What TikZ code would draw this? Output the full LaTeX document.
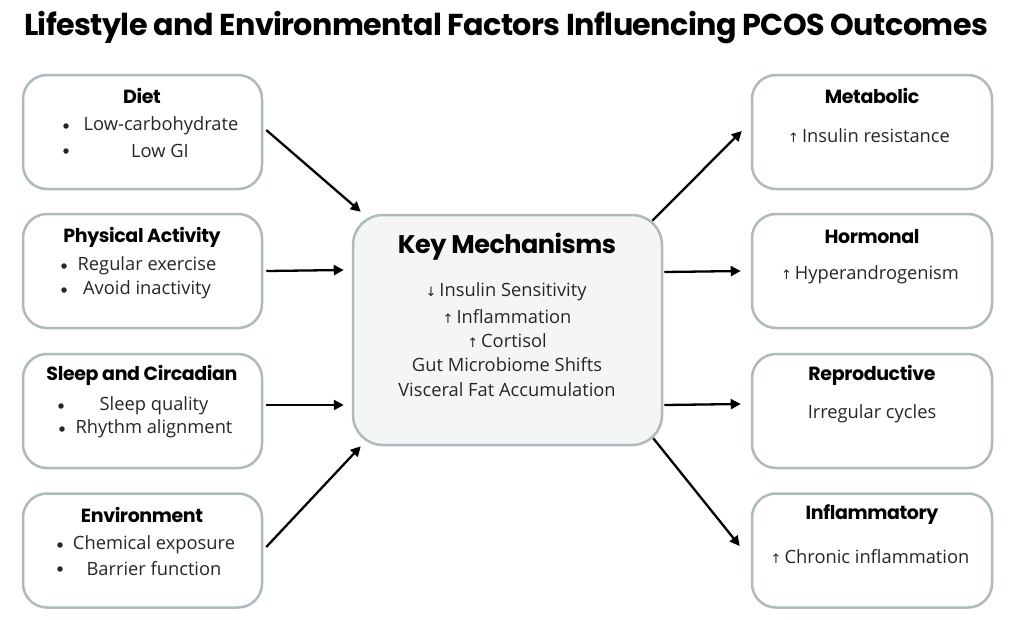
\documentclass[tikz,border=0pt]{standalone}
\usepackage{fontspec}
\setmainfont{Open Sans}
\newfontfamily\headfont{Poppins}[LetterSpace=-2]
\newfontfamily\symfont{DejaVu Sans}
\usetikzlibrary{calc,arrows.meta}
\definecolor{boxline}{HTML}{AEBABC}
\definecolor{keyfill}{HTML}{F4F6F6}
\newcommand{\up}{{\symfont\fontsize{13}{15}\selectfont ↑}\,}
\newcommand{\down}{{\symfont\fontsize{13}{15}\selectfont ↓}\,}
\tikzset{
  sbox/.style={draw=boxline, line width=2.5pt, rounded corners=24pt, fill=white},
  lbox/.style={sbox, minimum width=239pt, minimum height=114pt},
  rbox/.style={sbox, minimum width=240pt, minimum height=114pt},
  keybox/.style={draw=boxline, line width=2.5pt, rounded corners=30pt, fill=keyfill, minimum width=309pt, minimum height=230pt},
  head/.style={font=\headfont\bfseries\fontsize{19}{22}\selectfont, inner sep=0pt},
  txt/.style={font=\fontsize{18.3}{22}\selectfont, inner sep=0pt, text=black!85},
  bul/.style={circle, fill=black!85, inner sep=0pt, minimum size=5.5pt},
  arr/.style={-{Triangle[length=10pt,width=10pt]}, line width=2.3pt, black}
}
\begin{document}
\begin{tikzpicture}[x=1pt,y=-1pt]
\useasboundingbox (0,0) rectangle (1024,619);
\fill[white] (0,0) rectangle (1024,619);
% title
\node[font=\headfont\bfseries\fontsize{30.2}{34}\selectfont, inner sep=0pt] (title) at (506,28) {Lifestyle and Environmental Factors Influencing PCOS Outcomes};
% left boxes
\node[lbox] (diet) at (142.5,132) {};
\node[lbox] (phys) at (142.5,271) {};
\node[lbox] (sleep) at (142.5,411) {};
\node[lbox] (env) at (142.5,550.5) {};
% right boxes
\node[rbox] (met) at (872,132) {};
\node[rbox] (horm) at (872,271) {};
\node[rbox] (repro) at (872,411) {};
\node[rbox] (infl) at (872,550.5) {};
% key box
\node[keybox] (key) at (507.5,330) {};
% left texts
\node[head] (dieth) at (142,96) {Diet};
\node[bul] (db1) at (66,126) {};
\node[bul] (db2) at (66,151) {};
\node[txt] (dt1) at (161,126) {Low-carbohydrate};
\node[txt] (dt2) at (160,151) {Low GI};
\node[head] (physh) at (142,237) {Physical Activity};
\node[bul] (pb1) at (64,266) {};
\node[bul] (pb2) at (64,290) {};
\node[txt] (pt1) at (147,266) {Regular exercise};
\node[txt] (pt2) at (147,290) {Avoid inactivity};
\node[head] (sleeph) at (142,375) {Sleep and Circadian};
\node[bul] (sb1) at (61,406) {};
\node[bul] (sb2) at (62,429) {};
\node[txt] (st1) at (154,406) {Sleep quality};
\node[txt] (st2) at (154,429) {Rhythm alignment};
\node[head] (envh) at (142,515) {Environment};
\node[bul] (eb1) at (60,545) {};
\node[bul] (eb2) at (60,569) {};
\node[txt] (et1) at (154,545) {Chemical exposure};
\node[txt] (et2) at (154,569) {Barrier function};
% right texts
\node[head] (meth) at (872,96) {Metabolic};
\node[txt] (mt) at (869,136) {\up Insulin resistance};
\node[head] (hormh) at (872,237) {Hormonal};
\node[txt] (ht) at (870,275) {\up Hyperandrogenism};
\node[head] (reproh) at (872,375) {Reproductive};
\node[txt] (rt) at (872,414) {Irregular cycles};
\node[head] (inflh) at (872,515) {Inflammatory};
\node[txt] (it) at (870,557) {\up Chronic inflammation};
% key texts
\node[font=\headfont\bfseries\fontsize{25.5}{30}\selectfont, inner sep=0pt] (keyh) at (507,247) {Key Mechanisms};
\node[txt] (k1) at (506,292) {\down Insulin Sensitivity};
\node[txt] (k2) at (507,317) {\up Inflammation};
\node[txt] (k3) at (507,341) {\up Cortisol};
\node[txt] (k4) at (507,365) {Gut Microbiome Shifts};
\node[txt] (k5) at (507,390) {Visceral Fat Accumulation};
% arrows in
\draw[arr] ($(diet.east)+(3,-2)$) -- ($(key.north west)+(9,-2)$);
\draw[arr] ($(phys.east)+(3,0)$) -- ($(key.west |- phys.east)+(-8,-1)$);
\draw[arr] ($(sleep.east)+(3,-6)$) -- ($(key.west |- sleep.east)+(-8,-6)$);
\draw[arr] ($(env.east)+(3,-3.5)$) -- ($(key.south west)+(9,0)$);
% arrows out
\draw[arr] ($(key.north east)+(-11,7)$) -- ($(met.west)+(-9,-1)$);
\draw[arr] ($(key.east |- horm.west)+(1,1)$) -- ($(horm.west)+(-10,0)$);
\draw[arr] ($(key.east |- repro.west)+(1,-6)$) -- ($(repro.west)+(-10,-7)$);
\draw[arr] ($(key.south east)+(-10,-8)$) -- ($(infl.west)+(-11,-4.5)$);
\end{tikzpicture}
\end{document}
